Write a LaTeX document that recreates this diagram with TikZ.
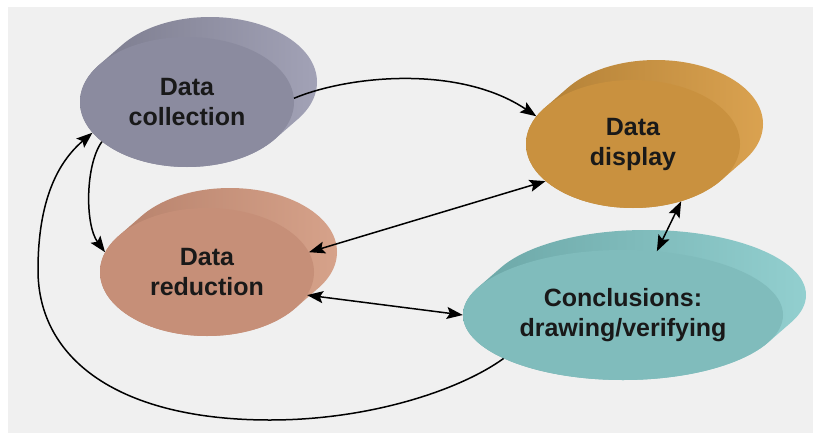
\documentclass[tikz,border=0pt]{standalone}
\usepackage{fontspec}
\setmainfont{Liberation Sans}
\usetikzlibrary{shapes.geometric,arrows.meta,calc}

% face, darker rim and lighter rim colours of the four discs
\definecolor{panel}{HTML}{F0F0F0}
\definecolor{dcface}{HTML}{8B8B9F}
\definecolor{dcdark}{HTML}{7A7A8C}
\definecolor{dclight}{HTML}{A2A2B6}
\definecolor{ddface}{HTML}{C9913F}
\definecolor{dddark}{HTML}{B17F35}
\definecolor{ddlight}{HTML}{DAA250}
\definecolor{drface}{HTML}{C68F78}
\definecolor{drdark}{HTML}{B5806A}
\definecolor{drlight}{HTML}{D6A28A}
\definecolor{cfface}{HTML}{80BCBC}
\definecolor{cfdark}{HTML}{6BA6A6}
\definecolor{cflight}{HTML}{92CFCF}

% rim of a disc: union of the face ellipse swept up and to the right
% #1 centre, #2 x radius, #3 y radius, #4 dark colour, #5 light colour
\newcommand\discrim[5]{%
  \shade[left color=#4, middle color=#4, right color=#5]
    \foreach \k in {0,...,20}{ ($(#1)+\k/20*(23,-20)$) ellipse [x radius=#2, y radius=#3] };
}

\tikzset{
  discface/.style={ellipse, inner sep=0pt, align=center, text=black!90,
    font=\fontsize{25}{30}\selectfont\bfseries},
  conn/.style={line width=1.5pt, black, -{Stealth[length=16pt,width=12pt,inset=3pt]}},
  twoway/.style={line width=1.5pt, black,
    {Stealth[length=16pt,width=12pt,inset=3pt]}-{Stealth[length=16pt,width=12pt,inset=3pt]}},
}

\begin{document}
\begin{tikzpicture}[x=1pt, y=-1pt]
  % page and grey panel
  \fill[white] (0,0) rectangle (813,439);
  \fill[panel] (8,7) rectangle (813,433);
  \useasboundingbox (0,0) rectangle (813,439);

  % rims
  \discrim{187,102}{107}{65}{dcdark}{dclight}
  \discrim{633,144}{107}{64}{dddark}{ddlight}
  \discrim{207,272}{107}{64}{drdark}{drlight}
  \discrim{623,315}{160}{65}{cfdark}{cflight}

  % faces
  \node[discface, fill=dcface, minimum width=214pt, minimum height=130pt]
    (dc) at (187,102) {Data\\collection};
  \node[discface, fill=ddface, minimum width=214pt, minimum height=128pt]
    (dd) at (633,144) {Data\\display};
  \node[discface, fill=drface, minimum width=214pt, minimum height=128pt]
    (dr) at (207,272) {Data\\reduction};
  \node[discface, fill=cfface, minimum width=320pt, minimum height=130pt]
    (cf) at (623,315) {Conclusions:\\drawing/verifying};

  % connectors
  \draw[conn] (dc.2) .. controls (350,75) and (460,65) .. (dd.164);
  \draw[conn] (dc.205) .. controls (85,165) and (85,225) .. (dr.169);
  \draw[twoway] (dr.11) -- (dd.203);
  \draw[twoway] (dr.347) -- (cf.180);
  \draw[twoway] (dd.310) -- (cf.62);
  \draw[conn] (cf.200) .. controls (460,390) and (370,420) .. (270,420)
    .. controls (120,420) and (38,360) .. (38,270)
    .. controls (38,200) and (58,162) .. (dc.198);
\end{tikzpicture}
\end{document}
